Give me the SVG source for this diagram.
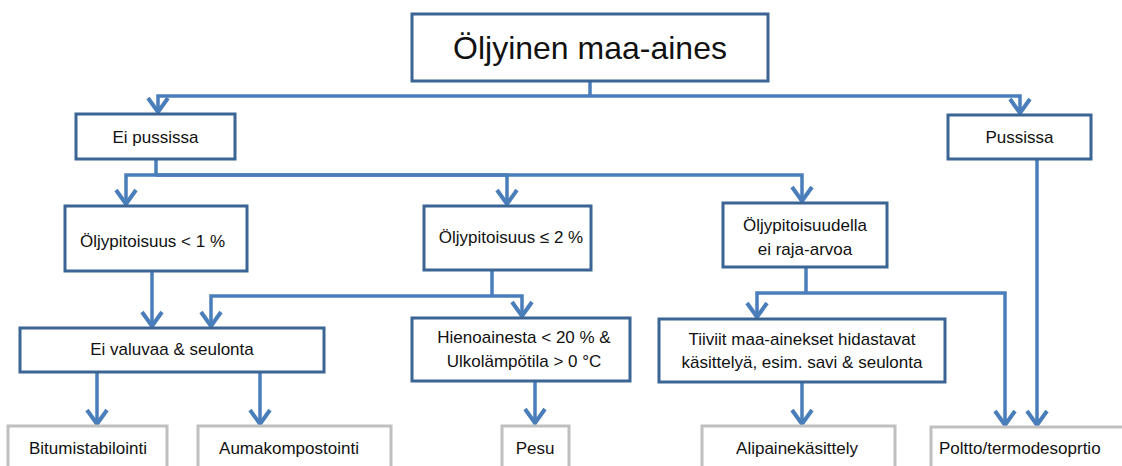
<svg xmlns="http://www.w3.org/2000/svg" width="1122" height="466" viewBox="0 0 1122 466">
<style>
.box{fill:#fff;stroke:#3b6594;stroke-width:3}
.leaf{fill:#fff;stroke:#bfbfbf;stroke-width:3}
.t{font-family:"Liberation Sans",Arial,sans-serif;font-size:17px;fill:#111;text-anchor:middle}
.title{font-size:32px}
.c{fill:none;stroke:#4a7ebb;stroke-width:3.5}
.a{marker-end:url(#arr)}
</style>
<defs>
<marker id="arr" markerUnits="userSpaceOnUse" viewBox="-20 -15 30 30" markerWidth="30" markerHeight="30" refX="0" refY="0" orient="auto" overflow="visible">
<path d="M-14,-10 L0,0 L-14,10" fill="none" stroke="#4a7ebb" stroke-width="4" stroke-linejoin="miter"/>
</marker>
</defs>
<rect width="1122" height="466" fill="#fff"/>
<g id="connectors">
<path class="c" d="M590,81 V96"/>
<path class="c a" d="M590,96 H158 V112"/>
<path class="c a" d="M590,96 H1020 V113"/>
<path class="c" d="M156,159 V175"/>
<path class="c a" d="M156,175 H126 V204"/>
<path class="c a" d="M156,175 H507 V204"/>
<path class="c a" d="M156,175 H802 V201"/>
<path class="c a" d="M152,271 V326"/>
<path class="c" d="M492,270 V296"/>
<path class="c a" d="M492,296 H211 V326"/>
<path class="c a" d="M492,296 H522 V316"/>
<path class="c" d="M806,267 V293"/>
<path class="c a" d="M806,293 H757 V317"/>
<path class="c a" d="M806,293 H1005 V425"/>
<path class="c a" d="M1037,159 V425"/>
<path class="c a" d="M97,372 V424"/>
<path class="c a" d="M260,372 V424"/>
<path class="c a" d="M535,381 V423"/>
<path class="c a" d="M802,382 V424"/>
</g>
<g id="n-root"><rect class="box" x="412" y="14" width="356" height="67"/><text class="t title" x="590" y="59">Öljyinen maa-aines</text></g>
<g id="n-eipussissa"><rect class="box" x="76" y="114" width="159" height="45"/><text class="t" x="155.5" y="143">Ei pussissa</text></g>
<g id="n-pussissa"><rect class="box" x="948" y="115" width="143" height="44"/><text class="t" x="1019.5" y="143">Pussissa</text></g>
<g id="n-alle1"><rect class="box" x="65" y="206" width="182" height="65"/><text class="t" x="152.5" y="247">Öljypitoisuus &lt; 1 %</text></g>
<g id="n-alle2"><rect class="box" x="424" y="206" width="167" height="64"/><text class="t" x="511" y="243">Öljypitoisuus ≤ 2 %</text></g>
<g id="n-eiraja"><rect class="box" x="723" y="203" width="164" height="64"/><text class="t" x="805" y="231">Öljypitoisuudella</text><text class="t" x="805" y="255">ei raja-arvoa</text></g>
<g id="n-eivaluvaa"><rect class="box" x="20" y="328" width="304" height="44"/><text class="t" x="172" y="355">Ei valuvaa &amp; seulonta</text></g>
<g id="n-hieno"><rect class="box" x="412" y="318" width="218" height="63"/><text class="t" x="524" y="343">Hienoainesta &lt; 20 % &amp;</text><text class="t" x="524" y="367">Ulkolämpötila &gt; 0 °C</text></g>
<g id="n-tiiviit"><rect class="box" x="659" y="319" width="286" height="63"/><text class="t" x="802" y="345">Tiiviit maa-ainekset hidastavat</text><text class="t" x="802" y="368">käsittelyä, esim. savi &amp; seulonta</text></g>
<g id="n-bitumi"><rect class="leaf" x="8" y="426" width="159" height="60"/><text class="t" x="88" y="454">Bitumistabilointi</text></g>
<g id="n-auma"><rect class="leaf" x="198" y="426" width="193" height="60"/><text class="t" x="289" y="454">Aumakompostointi</text></g>
<g id="n-pesu"><rect class="leaf" x="502" y="426" width="67" height="60"/><text class="t" x="535" y="454">Pesu</text></g>
<g id="n-alipaine"><rect class="leaf" x="702" y="426" width="193" height="60"/><text class="t" x="797" y="454">Alipainekäsittely</text></g>
<g id="n-poltto"><rect class="leaf" x="931" y="427" width="210" height="60"/><text class="t" x="939" y="454" style="text-anchor:start">Poltto/termodesoprtio</text></g>
</svg>
